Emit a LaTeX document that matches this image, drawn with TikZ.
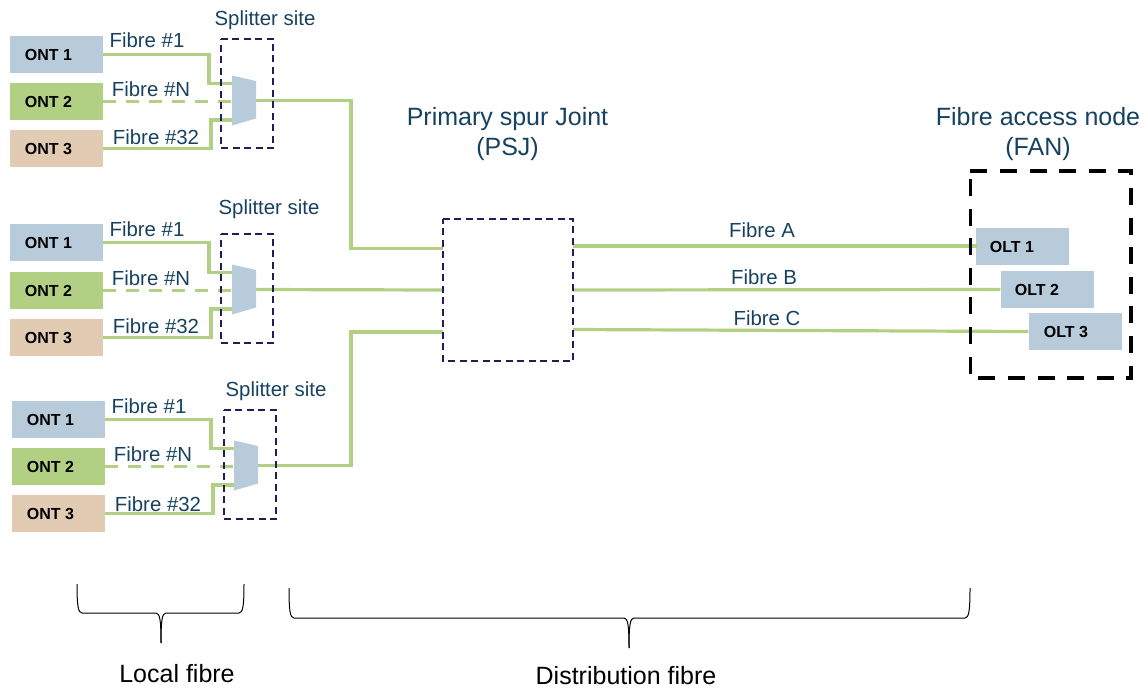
\documentclass[tikz,border=0pt]{standalone}
\usepackage{fontspec}
\setmainfont{Liberation Sans}
\definecolor{ltblue}{HTML}{B8CBDA}
\definecolor{ltgreen}{HTML}{B2D083}
\definecolor{ltsand}{HTML}{E2CBB3}
\definecolor{inkblue}{HTML}{17425F}
\definecolor{navy}{HTML}{221C5C}
\tikzset{
  x=1pt,y=-1pt,
  devbox/.style={minimum width=93pt,minimum height=37pt,inner sep=0pt,font=\fontsize{16}{18}\selectfont\bfseries},
  fibre/.style={draw=ltgreen,line width=3.2pt},
  fibrethick/.style={draw=ltgreen,line width=4pt},
  fibredash/.style={fibre,dash pattern=on 13pt off 10pt},
  site/.style={draw=navy,line width=1.5pt,dash pattern=on 7pt off 4.5pt},
  fan/.style={draw=black,line width=3.6pt,dash pattern=on 17pt off 12.6pt},
  lab/.style={text=inkblue,inner sep=0pt,font=\fontsize{20.4}{24}\selectfont},
  biglab/.style={text=inkblue,inner sep=0pt,align=center,font=\fontsize{25}{30}\selectfont},
  bracelab/.style={text=black,inner sep=0pt,font=\fontsize{25}{28}\selectfont},
  bracket/.style={draw=black,line width=1pt}
}
\newcommand{\spl}[3]{% name, left x, top y
  \coordinate (#1tl) at (#2,#3);
  \coordinate (#1tr) at (#2+24,#3+5.5);
  \coordinate (#1br) at (#2+24,#3+43);
  \coordinate (#1bl) at (#2,#3+50);
  \coordinate (#1a) at (#2,#3+8);
  \coordinate (#1b) at (#2,#3+26);
  \coordinate (#1c) at (#2,#3+44.5);
  \coordinate (#1o) at (#2+24,#3+25);
}
\newcommand{\brc}[4]{% xl, xr, ytop, ymid ; tip x in \tipx
  \draw[bracket] (#1,#3) .. controls (#1,#4-8) and (#1+1,#4) .. (#1+5,#4)
    -- (\tipx-5,#4) .. controls (\tipx-1,#4) and (\tipx,#4+8) .. (\tipx,#4+30);
  \draw[bracket] (#2,#3) .. controls (#2,#4-8) and (#2-1,#4) .. (#2-5,#4)
    -- (\tipx+5,#4) .. controls (\tipx+1,#4) and (\tipx,#4+8) .. (\tipx,#4+30);
}
\newcommand{\frm}[2]{% style, node name: outline drawn clockwise from the top left corner
  \draw[#1] (#2.north west) -- (#2.north east) -- (#2.south east) -- (#2.south west) -- cycle;
}
\begin{document}
\begin{tikzpicture}
\useasboundingbox (0,0) rectangle (1145,689);
% ONT boxes, group 1
\node[devbox,fill=ltblue]  (a1) at (56.5,54.5) {\hspace*{-16pt}ONT 1};
\node[devbox,fill=ltgreen] (a2) at (56.5,101.5) {\hspace*{-16pt}ONT 2};
\node[devbox,fill=ltsand]  (a3) at (56.5,148.5) {\hspace*{-16pt}ONT 3};
% group 2
\node[devbox,fill=ltblue]  (b1) at (56.5,242.5) {\hspace*{-16pt}ONT 1};
\node[devbox,fill=ltgreen] (b2) at (56.5,290.5) {\hspace*{-16pt}ONT 2};
\node[devbox,fill=ltsand]  (b3) at (56.5,337.5) {\hspace*{-16pt}ONT 3};
% group 3
\node[devbox,fill=ltblue]  (c1) at (58.5,419.5) {\hspace*{-16pt}ONT 1};
\node[devbox,fill=ltgreen] (c2) at (58.5,466.5) {\hspace*{-16pt}ONT 2};
\node[devbox,fill=ltsand]  (c3) at (58.5,513.5) {\hspace*{-16pt}ONT 3};
% OLT
\node[devbox,fill=ltblue] (o1) at (1022,246.5) {\hspace*{-20pt}OLT 1};
\node[devbox,fill=ltblue] (o2) at (1047,289.5) {\hspace*{-20pt}OLT 2};
\node[devbox,fill=ltblue] (o3) at (1075,331.5) {\hspace*{-18pt}OLT 3};
% splitters and port coordinates
\spl{sa}{232}{75.5}
\spl{sb}{232}{264.5}
\spl{sc}{234}{440.5}
\coordinate (psja) at (443,248.5);
\coordinate (psjb) at (443,290);
\coordinate (psjc) at (443,332);
\coordinate (psjA) at (573,245.5);
\coordinate (psjB) at (573,290);
\coordinate (psjC) at (573,329.5);
\coordinate (o1in) at (978,245.5);
% fibres
\foreach \g/\s/\xa/\xc in {a/sa/209/211,b/sb/209/211,c/sc/211/213}{
  \draw[fibre] (\g1.east) -| (\xa,0 |- \s a) -- (\s a);
  \draw[fibredash] (\g2.east) -- (\s b);
  \draw[fibre] (\g3.east) -| (\xc,0 |- \s c) -- (\s c);
}
\draw[fibre] (sao) -- (351,0 |- sao) |- (psja);
\draw[fibre] (sbo) -- (psjb);
\draw[fibre] (sco) -- (351,0 |- sco) |- (psjc);
\draw[fibrethick] (psjA) -- (o1in);
\draw[fibre] (psjB) -- (o2.west);
\draw[fibre] (psjC) -- (o3.west);
% splitters
\foreach \s in {sa,sb,sc}{
  \fill[ltblue] (\s tl) -- (\s tr) -- (\s br) -- (\s bl) -- cycle;
}
% dashed enclosures
\node[inner sep=0pt,minimum width=52pt,minimum height=109pt] (sitea) at (247,93.5) {};
\node[inner sep=0pt,minimum width=52pt,minimum height=109pt] (siteb) at (247,288.5) {};
\node[inner sep=0pt,minimum width=52pt,minimum height=109pt] (sitec) at (250,464.5) {};
\node[inner sep=0pt,minimum width=130pt,minimum height=142pt] (psj) at (508,290) {};
\node[inner sep=0pt,minimum width=160pt,minimum height=207pt] (fanbox) at (1050.5,274.5) {};
\frm{site}{sitea}
\frm{site}{siteb}
\frm{site}{sitec}
\frm{site}{psj}
\frm{fan}{fanbox}
% labels
\node[lab] (la) at (265,20) {Splitter site};
\node[lab] (lb) at (269,209) {Splitter site};
\node[lab] (lc) at (276,391) {Splitter site};
\foreach \n/\x/\ya/\yb/\yc in {a/147/40/89/137, b/147/229/278/326, c/149/406/454/504}{
  \node[lab] (f1\n) at (\x,\ya) {Fibre \#1};
  \node[lab] (fn\n) at (\x+4,\yb) {Fibre \#N};
  \node[lab] (f3\n) at (\x+9,\yc) {Fibre \#32};
}
\node[lab] (fA) at (762,230) {Fibre A};
\node[lab] (fB) at (764,277) {Fibre B};
\node[lab] (fC) at (767,318) {Fibre C};
\node[biglab] (psjl) at (507.5,134) {Primary spur Joint\\(PSJ)};
\node[biglab] (fanl) at (1038,134) {Fibre access node\\(FAN)};
\node[bracelab] (local) at (177,674) {Local fibre};
\node[bracelab] (dist) at (626,676) {Distribution fibre};
% braces
\def\tipx{161}\brc{77}{244}{584}{613}
\def\tipx{629}\brc{289}{970}{588}{618}
\end{tikzpicture}
\end{document}
